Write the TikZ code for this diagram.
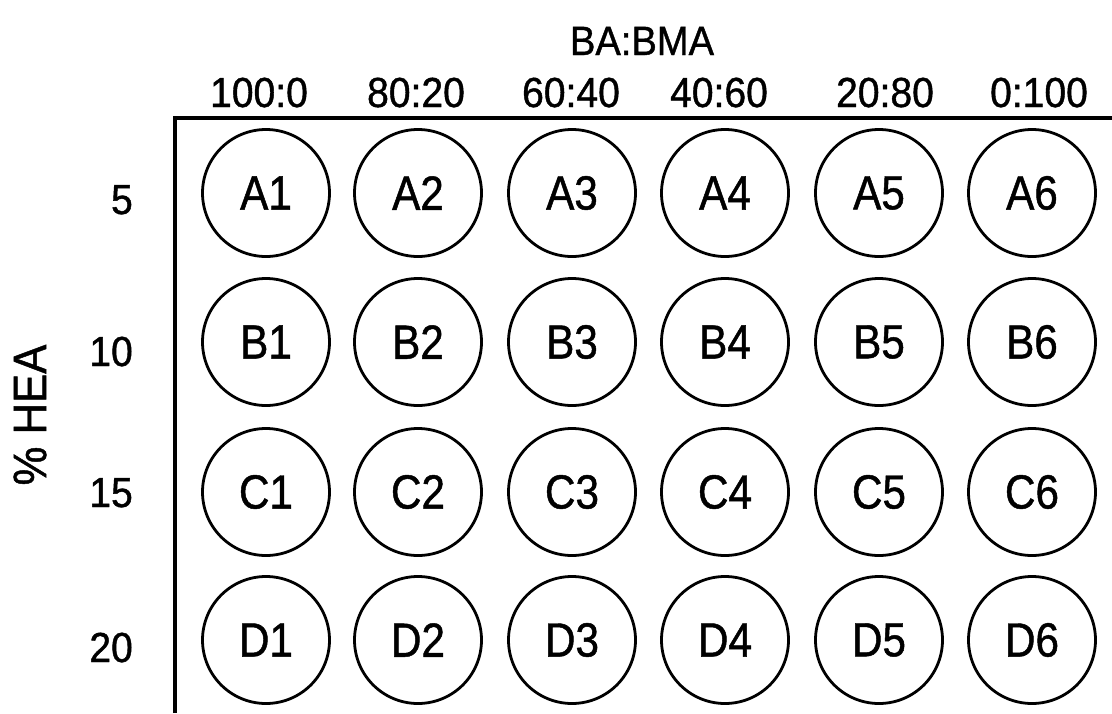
\documentclass[tikz,border=0pt]{standalone}
\usepackage{fontspec}
\setmainfont{Liberation Sans}
\newfontfamily\wellfont[FakeStretch=0.88,FakeBold=1]{Liberation Sans}
\newfontfamily\labfont[FakeStretch=0.93,FakeBold=1]{Liberation Sans}
\begin{document}
\begin{tikzpicture}[x=1pt,y=-1pt,
  well/.style={draw=black,line width=2.8pt,circle,minimum size=127pt,inner sep=0pt,
    font=\wellfont\fontsize{48}{48}\selectfont},
  collabel/.style={anchor=base,inner sep=0pt,font=\labfont\fontsize{42}{42}\selectfont},
  rowlabel/.style={anchor=base east,inner sep=0pt,font=\labfont\fontsize{42}{42}\selectfont},
  axistitle/.style={inner sep=0pt,font=\labfont\fontsize{41}{41}\selectfont},
  frameline/.style={line width=4pt,black}]
\useasboundingbox (0,0) rectangle (1112,713);
% frame
\coordinate (fb) at (175,713);
\coordinate (fc) at (175,118);
\coordinate (fr) at (1112,118);
\draw[frameline] (fb) -- (fc) -- (fr);
% axis titles
\node[axistitle,anchor=base] (tbamma) at (642,55) {BA:BMA};
\node[axistitle,rotate=90,font=\labfont\fontsize{47}{47}\selectfont] (thea) at (30,415) {\% HEA};
% column labels
\node[collabel] (c1) at (259,107) {100:0};
\node[collabel] (c2) at (416,107) {80:20};
\node[collabel] (c3) at (571,107) {60:40};
\node[collabel] (c4) at (719,107) {40:60};
\node[collabel] (c5) at (885,107) {20:80};
\node[collabel] (c6) at (1039,107) {0:100};
% row labels
\node[rowlabel] (r1) at (133,214) {5};
\node[rowlabel] (r2) at (133,366) {10};
\node[rowlabel] (r3) at (133,507) {15};
\node[rowlabel] (r4) at (133,662) {20};
% wells
\foreach \r/\y in {A/193,B/342,C/492,D/640}{
  \foreach \c/\x in {1/266,2/418,3/572,4/725,5/879,6/1032}{
    \node[well] (\r\c) at (\x,\y) {\raisebox{-3pt}{\r\c}};
  }
}
\end{tikzpicture}
\end{document}
